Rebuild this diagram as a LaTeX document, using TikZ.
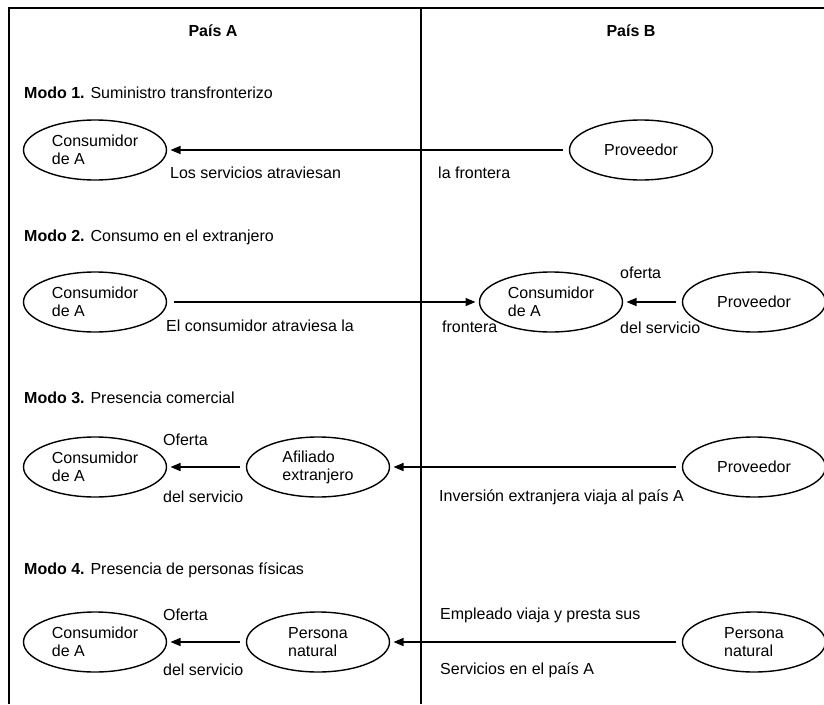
\documentclass[tikz,border=0pt]{standalone}
\usepackage{fontspec}
\setmainfont{Liberation Sans}
\usetikzlibrary{shapes.geometric,arrows.meta}

\begin{document}
\begin{tikzpicture}[
  x=1pt, y=-1pt,
  every node/.style={font=\fontsize{16}{18}\selectfont},
  ellipse node/.style={draw, ellipse, line width=1.4pt, minimum width=143pt, minimum height=60pt, inner sep=0pt, outer sep=4pt, align=left},
  text node/.style={anchor=west, inner sep=0pt},
  solid edge/.style={draw,-{Triangle[length=10pt,width=8pt]},line width=1.4pt,shorten <=3pt}
]
\useasboundingbox (0,0) rectangle (824,704);
% Frame and border between the countries
\draw[line width=2pt] (9,704) -- (9,8) -- (824,8);
\draw[line width=2pt] (421,8) -- (421,704);
\node[font=\fontsize{16}{18}\selectfont\bfseries] (paisA) at (213,31) {País A};
\node[font=\fontsize{16}{18}\selectfont\bfseries] (paisB) at (631,31) {País B};
% Modo 1
\node[text node] (modo1) at (24,93) {\textbf{Modo 1.} Suministro transfronterizo};
\node[ellipse node] (consA1) at (95,150) {Consumidor\\de A};
\node[ellipse node] (prov1) at (641,150) {Proveedor};
\node[text node] (t1a) at (170,173) {Los servicios atraviesan};
\node[text node] (t1b) at (438,173) {la frontera};
\path[solid edge] (prov1) -- (consA1);
% Modo 2
\node[text node] (modo2) at (24,237) {\textbf{Modo 2.} Consumo en el extranjero};
\node[ellipse node] (consA2) at (95,302) {Consumidor\\de A};
\node[ellipse node] (consB2) at (551,302) {Consumidor\\de A};
\node[ellipse node] (prov2) at (754,302) {Proveedor};
\node[text node] (t2a) at (166,326) {El consumidor atraviesa la};
\node[text node] (t2b) at (442,327) {frontera};
\node[text node] (t2c) at (620,273) {oferta};
\node[text node] (t2d) at (620,328) {del servicio};
\path[solid edge] (consA2) -- (consB2);
\path[solid edge] (prov2) -- (consB2);
% Modo 3
\node[text node] (modo3) at (24,398) {\textbf{Modo 3.} Presencia comercial};
\node[ellipse node] (consA3) at (95,467) {Consumidor\\de A};
\node[ellipse node] (afil3) at (318,467) {Afiliado\\extranjero};
\node[ellipse node] (prov3) at (754,467) {Proveedor};
\node[text node] (t3a) at (163,440) {Oferta};
\node[text node] (t3b) at (163,497) {del servicio};
\node[text node] (t3c) at (439,497) {Inversión extranjera viaja al país A};
\path[solid edge] (afil3) -- (consA3);
\path[solid edge] (prov3) -- (afil3);
% Modo 4
\node[text node] (modo4) at (24,570) {\textbf{Modo 4.} Presencia de personas físicas};
\node[ellipse node] (consA4) at (95,642) {Consumidor\\de A};
\node[ellipse node] (pers4) at (318,642) {Persona\\natural};
\node[ellipse node] (persB4) at (754,642) {Persona\\natural};
\node[text node] (t4a) at (163,615) {Oferta};
\node[text node] (t4b) at (163,670) {del servicio};
\node[text node] (t4c) at (440,615) {Empleado viaja y presta sus};
\node[text node] (t4d) at (440,670) {Servicios en el país A};
\path[solid edge] (pers4) -- (consA4);
\path[solid edge] (persB4) -- (pers4);
\end{tikzpicture}
\end{document}
